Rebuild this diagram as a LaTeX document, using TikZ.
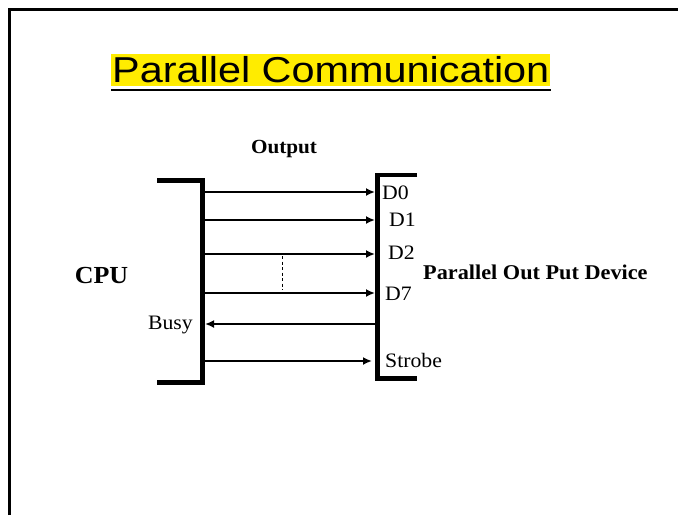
\documentclass[tikz,border=0pt]{standalone}
\usepackage{fontspec}
\usepackage{tikz}
\usetikzlibrary{arrows.meta}

\newfontfamily\titlefont[FakeStretch=1.15]{Liberation Sans}
\newfontfamily\lblfont[FakeStretch=1.06]{Liberation Serif}
\definecolor{hiyellow}{RGB}{255,236,0}

\tikzset{
  bus/.style={line width=4.6pt, line join=miter},
  sig/.style={line width=2pt, -{Latex[length=9pt, width=8pt]}},
  pin/.style={font=\lblfont\fontsize{20.5}{22}\selectfont, inner sep=0pt},
  caption/.style={font=\lblfont\bfseries\fontsize{#1}{#1}\selectfont, inner sep=0pt},
}

\begin{document}
\begin{tikzpicture}[x=1pt,y=-1pt]
\useasboundingbox (0,0) rectangle (678,515);
\draw[line width=2.6pt] (9.5,515) -- (9.5,9.5) -- (678,9.5);

% title
\node[anchor=base west, fill=hiyellow, inner xsep=1pt, inner ysep=0pt, text height=29pt, text depth=3pt,
      font=\titlefont\fontsize{36}{38}\selectfont] (title) at (111,82.5) {Parallel Communication};
\draw[line width=1.8pt] ([yshift=-4pt]title.south west) -- ([yshift=-4pt]title.south east);

% buses
\draw[bus] (157,180.5) -- (202.5,180.5) -- (202.5,382.5) -- (157,382.5);
\draw[bus] (417,175) -- (377.5,175) -- (377.5,378.5) -- (417,378.5);

% signal ends
\coordinate (cpuD0) at (205,192);   \coordinate (devD0) at (375,192);
\coordinate (cpuD1) at (205,220);   \coordinate (devD1) at (375,220);
\coordinate (cpuD2) at (205,254);   \coordinate (devD2) at (375,254);
\coordinate (cpuD7) at (205,293);   \coordinate (devD7) at (375,293);
\coordinate (cpuBusy) at (205,324); \coordinate (devBusy) at (375,324);
\coordinate (cpuStb) at (205,361);  \coordinate (devStb) at (372,361);
\coordinate (gapTop) at (282,256);  \coordinate (gapBot) at (282,290);

\draw[sig] (cpuD0) -- (devD0);
\draw[sig] (cpuD1) -- (devD1);
\draw[sig] (cpuD2) -- (devD2);
\draw[sig] (cpuD7) -- (devD7);
\draw[sig] (devBusy) -- (cpuBusy);
\draw[sig] (cpuStb) -- (devStb);
\draw[line width=0.8pt, dash pattern=on 3pt off 2.5pt] (gapTop) -- (gapBot);

% labels
\node[pin, anchor=base west] (lblD0) at (382,199.5) {D0};
\node[pin, anchor=base west] (lblD1) at (389,226.5) {D1};
\node[pin, anchor=base west] (lblD2) at (388,259.5) {D2};
\node[pin, anchor=base west] (lblD7) at (385,300) {D7};
\node[pin, anchor=base east] (lblBusy) at (193,329) {Busy};
\node[pin, anchor=base west] (lblStb) at (385,367.5) {Strobe};

\node[caption=20, anchor=base] (output) at (284,153) {Output};
\node[caption=24.5, anchor=base] (cpu) at (101.5,283) {CPU};
\node[caption=21, anchor=base west] (device) at (423,279) {Parallel Out Put Device};
\end{tikzpicture}
\end{document}
